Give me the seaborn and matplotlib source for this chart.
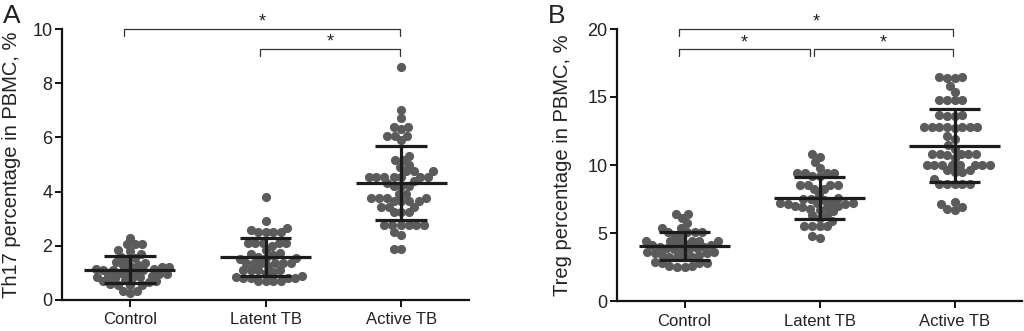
import numpy as np
import pandas as pd
import matplotlib
matplotlib.use("Agg")
import matplotlib.pyplot as plt
import seaborn as sns

# ---------------- data ----------------
categories = ["Control", "Latent TB", "Active TB"]

th17_control = [2.3, 2.05, 2.05, 2.05, 1.85, 1.8, 1.7, 1.6, 1.55, 1.5, 1.4, 1.35,
                1.3, 1.3, 1.25, 1.2, 1.2, 1.15, 1.15, 1.1, 1.1, 1.1, 1.05, 1.0,
                1.0, 0.95, 0.95, 0.9, 0.9, 0.85, 0.85, 0.8, 0.8, 0.75, 0.7, 0.7,
                0.65, 0.6, 0.55, 0.55, 0.55, 0.35, 0.35, 0.25]
th17_latent = [3.8, 2.9, 2.65, 2.6, 2.5, 2.5, 2.5, 2.5, 2.1, 2.1, 2.1, 2.1,
               2.1, 2.0, 1.85, 1.75, 1.7, 1.65, 1.6, 1.55, 1.55, 1.5, 1.35, 1.35,
               1.35, 1.35, 1.35, 1.35, 1.25, 1.1, 1.1, 1.1, 1.1, 1.05, 1.0, 0.9,
               0.85, 0.8, 0.8, 0.8, 0.8, 0.7, 0.7, 0.7, 0.7]
th17_active = [8.6, 7.0, 6.7, 6.4, 6.4, 6.3, 6.05, 6.05, 6.05, 5.9, 5.3, 5.15, 5.15,
               5.0, 4.9, 4.75, 4.75, 4.75, 4.55, 4.55, 4.55, 4.55, 4.55, 4.55,
               4.55, 4.4, 4.3, 4.2, 4.2, 4.2, 3.9, 3.9, 3.75, 3.75, 3.75, 3.75,
               3.65, 3.65, 3.65, 3.65, 3.45, 3.45, 3.45, 3.25, 3.25, 3.25, 2.75,
               2.75, 2.75, 2.75, 2.75, 2.75, 2.5, 2.4, 1.9, 1.9]

treg_control = [6.4, 6.4, 6.1, 5.7, 5.4, 5.4, 5.1, 5.1, 5.1, 5.1, 4.8, 4.7, 4.4,
                4.4, 4.4, 4.4, 4.4, 4.3, 4.2, 4.1, 4.1, 4.0, 4.0, 3.9, 3.9, 3.8,
                3.8, 3.7, 3.6, 3.6, 3.5, 3.5, 3.4, 3.4, 3.2, 3.2, 3.2, 3.2, 2.9,
                2.8, 2.8, 2.8, 2.6, 2.6, 2.5, 2.5]
treg_latent = [10.8, 10.6, 10.2, 9.8, 9.4, 9.4, 9.4, 9.4, 9.2, 9.2, 8.5, 8.5, 8.5,
               8.5, 8.2, 8.2, 7.8, 7.6, 7.5, 7.5, 7.4, 7.3, 7.2, 7.2, 7.2, 7.1,
               7.1, 7.0, 7.0, 6.9, 6.9, 6.8, 6.7, 6.6, 6.3, 6.3, 6.1, 5.9, 5.5,
               5.5, 5.5, 5.5, 4.8, 4.6]
treg_active = [16.5, 16.5, 16.4, 16.4, 15.8, 15.4, 14.8, 14.8, 14.8, 14.8, 13.7,
               13.7, 13.6, 13.6, 12.8, 12.7, 12.8, 12.8, 12.8, 12.8, 12.8, 12.8,
               12.1, 11.9, 11.5, 11.2, 10.8, 10.7, 10.8, 10.8, 10.8, 10.8, 10.5,
               10.0, 10.0, 10.0, 10.0, 10.0, 10.0, 10.0, 10.0, 9.5, 9.6, 9.6, 9.5,
               9.0, 8.6, 8.6, 8.6, 8.6, 8.6, 7.3, 7.1, 6.9, 6.8, 6.7]

ticks_a = [0, 2, 4, 6, 8, 10]
ticks_b = [0, 5, 10, 15, 20]
ylabel_a = "Th17 percentage in PBMC, %"
ylabel_b = "Treg percentage in PBMC, %"
# (group i, group j, bracket height)
brackets_a = [(0, 2, 10.0), (1, 2, 9.26)]
brackets_b = [(0, 2, 20.0), (0, 1, 18.5), (1, 2, 18.5)]

# ---------------- style ----------------
sns.set_theme(style="ticks")
plt.rcParams["font.family"] = ["Liberation Sans", "DejaVu Sans"]

DOT = "#5b5b5b"
BAR = "#1c1c1c"
TXT = "#222222"
LAYOUT_SIZE = 5.2   # marker size used to pack the swarm (Prism-like overlap)
DRAW_SIZE = 6.6     # marker size actually drawn

fig = plt.figure(figsize=(10.24, 3.31), dpi=100)
axA = fig.add_axes([62 / 1024, 31 / 331, 407 / 1024, 271 / 331])
axB = fig.add_axes([617 / 1024, 30 / 331, 405 / 1024, 272 / 331])


def panel(ax, groups, ymax, ticks, ylabel, brackets, drop, labelpad):
    df = pd.DataFrame({
        "group": np.repeat(categories, [len(g) for g in groups]),
        "value": np.concatenate([np.asarray(g, float) for g in groups]),
    })
    sns.swarmplot(data=df, x="group", y="value", order=categories, color=DOT,
                  size=LAYOUT_SIZE, linewidth=0, ax=ax, zorder=2)
    stats = df.groupby("group", sort=False)["value"].agg(["mean", "std"]).reindex(categories)
    for i, (m, s) in enumerate(zip(stats["mean"], stats["std"])):
        ax.hlines(m, i - 0.335, i + 0.335, color=BAR, lw=2.3, zorder=5)
        ax.hlines([m - s, m + s], i - 0.19, i + 0.19, color=BAR, lw=2.3, zorder=5)
        ax.vlines(i, m - s, m + s, color=BAR, lw=2.3, zorder=5)
    for (i, j, h) in brackets:
        x0 = i - 0.04
        x1 = j - 0.07 if (len(brackets) == 3 and i == 0 and j == 1) else j - 0.01
        ax.plot([x0, x0, x1, x1], [h - drop, h, h, h - drop], color="#333333",
                lw=0.9, clip_on=False, zorder=6)
        ax.annotate("*", xy=((x0 + x1) / 2, h), xytext=(0, 1.5),
                    textcoords="offset points", ha="center", va="baseline",
                    fontsize=13, color=TXT, annotation_clip=False)
    ax.set_xlim(-0.5, 2.5)
    ax.set_ylim(0, ymax)
    ax.set_yticks(ticks)
    ax.set_yticklabels([str(t) for t in ticks], fontsize=13, color=TXT)
    ax.set_xticks(range(len(categories)))
    ax.set_xticklabels(categories, fontsize=12, color=TXT)
    ax.set_xlabel("")
    ax.set_ylabel(ylabel, fontsize=14.5, color=TXT, labelpad=labelpad)
    sns.despine(ax=ax)
    for sp in ("left", "bottom"):
        ax.spines[sp].set_linewidth(1.6)
        ax.spines[sp].set_color("#111111")
    ax.tick_params(axis="both", width=1.4, length=5, color="#111111")
    ax.tick_params(axis="x", pad=4)
    ax.tick_params(axis="y", pad=2)


panel(axA, [th17_control, th17_latent, th17_active], 10, ticks_a, ylabel_a,
      brackets_a, 0.26, 8)
panel(axB, [treg_control, treg_latent, treg_active], 20, ticks_b, ylabel_b,
      brackets_b, 0.5, 11)

fig.text(3 / 1024, 1 - 4 / 331, "A", fontsize=19, va="top", ha="left", color=TXT)
fig.text(548 / 1024, 1 - 4 / 331, "B", fontsize=19, va="top", ha="left", color=TXT)

# let seaborn pack the swarms with the small layout size, then freeze the
# positions and draw the dots a little larger so they overlap like the original
fig.canvas.draw()
for ax in (axA, axB):
    for coll in ax.collections:
        if "draw" in coll.__dict__:
            del coll.draw
            coll.set_sizes([DRAW_SIZE ** 2])

fig.savefig("out.png", dpi=100)
